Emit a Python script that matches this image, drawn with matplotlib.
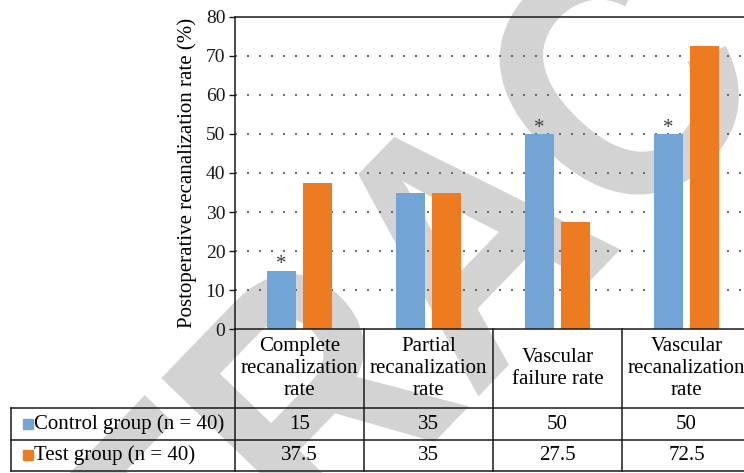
import matplotlib.pyplot as plt
import matplotlib.transforms as mtransforms
from matplotlib.textpath import TextPath
from matplotlib.patches import PathPatch
from matplotlib.font_manager import FontProperties
import numpy as np

plt.rcParams['font.family'] = ['Liberation Serif', 'DejaVu Serif']

categories = ["Complete\nrecanalization\nrate",
              "Partial\nrecanalization\nrate",
              "Vascular\nfailure rate",
              "Vascular\nrecanalization\nrate"]
series_names = ["Control group (n = 40)", "Test group (n = 40)"]
control = [15, 35, 50, 50]
test = [37.5, 35, 27.5, 72.5]
control_labels = ["15", "35", "50", "50"]
test_labels = ["37.5", "35", "27.5", "72.5"]
significant = [True, False, True, True]   # asterisk over control bar
yticks = [0, 10, 20, 30, 40, 50, 60, 70, 80]

blue = '#72A5D6'
orange = '#ED7B21'
line_col = '#1a1a1a'

fig = plt.figure(figsize=(7.44, 4.73), dpi=100)

# watermark behind everything (a slightly narrowed bold sans, in pixels)
tp = TextPath((0, 0), "RETRACTED", size=350,
              prop=FontProperties(family='Liberation Sans', weight='bold'))
ext = tp.get_extents()
cx = (ext.x0 + ext.x1) / 2
cy = 0.358 * 350
wm_tr = (mtransforms.Affine2D().translate(-cx, -cy).scale(0.87, 1)
         .rotate_deg(46).translate(462, 473 - 233))
fig.patches.append(PathPatch(tp, transform=wm_tr, facecolor='#d3d3d3',
                             edgecolor='none', zorder=-5))

# axes run past the right edge of the picture, like the original
ax = fig.add_axes([235 / 744, 143.7 / 473, 516 / 744, 312.6 / 473])
ax.patch.set_visible(False)

x = np.arange(len(categories))
w = 0.225
off = 0.143
ax.bar(x - off, control, w, color=blue, zorder=2)
ax.bar(x + off, test, w, color=orange, zorder=2)

for i, s in enumerate(significant):
    if s:
        ax.annotate("*", (x[i] - off, control[i]), xytext=(0, 1),
                    textcoords='offset points', ha='center', va='baseline',
                    fontsize=15, color='#404040')

ax.set_xlim(-0.5, 3.5)
ax.set_ylim(0, 80)
ax.set_yticks(yticks)
ax.set_xticks([])
ax.tick_params(axis='y', direction='out', length=4, width=1, pad=3,
               labelsize=14, colors=line_col)
for y in yticks[1:-1]:
    ax.axhline(y, color='#555555', lw=1.2, ls=(0, (1.2, 6)), zorder=1)
for sp in ax.spines.values():
    sp.set_color(line_col)
    sp.set_linewidth(1.1)

ax.set_ylabel("Postoperative recanalization rate (%)", fontsize=15)
ax.yaxis.set_label_coords(-0.073, 0.5)

# data table under the plot
tr = mtransforms.blended_transform_factory(ax.transData, ax.transAxes)
y_head = -0.2527
y_ctrl = -0.3541
y_test = -0.4533
x_left = -2.236
kw = dict(transform=tr, clip_on=False, color=line_col, lw=1.1)

for xb in [-0.5, 0.5, 1.5, 2.5, 3.5]:
    ax.plot([xb, xb], [0, y_test], **kw)
ax.plot([x_left, x_left], [y_head, y_test], **kw)
for yb in [y_head, y_ctrl, y_test]:
    ax.plot([x_left, 3.5], [yb, yb], **kw)

for i, c in enumerate(categories):
    ax.text(x[i], y_head / 2, c, transform=tr, ha='center', va='center',
            fontsize=15, linespacing=1.2, clip_on=False)
    ax.text(x[i], (y_head + y_ctrl) / 2, control_labels[i], transform=tr,
            ha='center', va='center', fontsize=15, clip_on=False)
    ax.text(x[i], (y_ctrl + y_test) / 2, test_labels[i], transform=tr,
            ha='center', va='center', fontsize=15, clip_on=False)

for (y0, y1), name, col in zip([(y_head, y_ctrl), (y_ctrl, y_test)],
                               series_names, [blue, orange]):
    ym = (y0 + y1) / 2
    ax.plot([-2.101], [ym], marker='s', ms=7.5, color=col, transform=tr,
            clip_on=False, ls='none')
    ax.text(-2.058, ym, name, transform=tr, ha='left', va='center',
            fontsize=15, clip_on=False)

fig.savefig("out.png", dpi=100)
